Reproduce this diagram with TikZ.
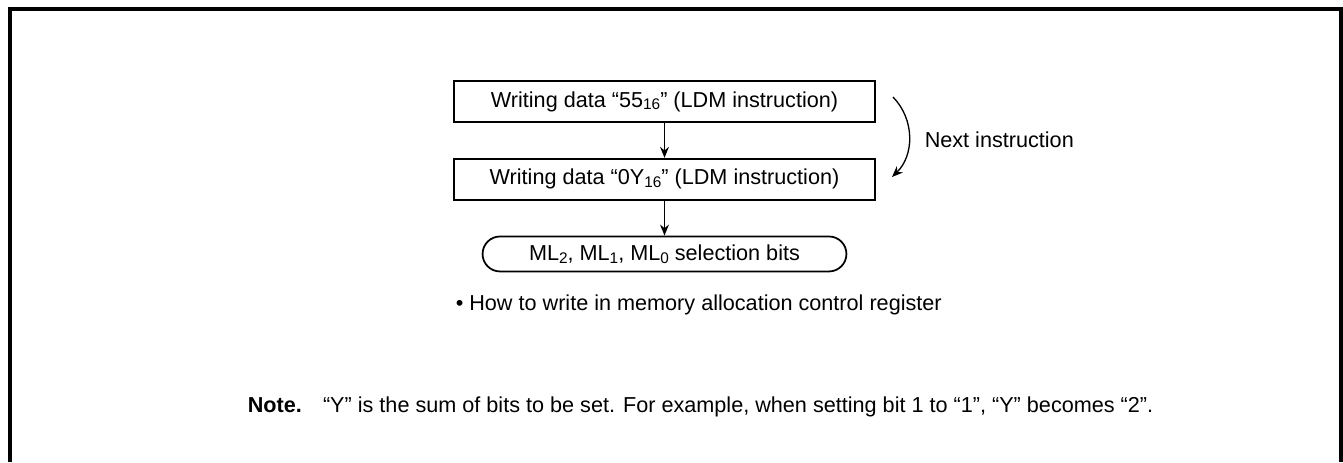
\documentclass[tikz,border=0pt]{standalone}
\usepackage{fontspec}
\setmainfont{Liberation Sans}
\usepackage{tikz}
\usetikzlibrary{positioning, shapes, arrows.meta}

\newcommand{\lowdig}[1]{\raisebox{-0.25ex}{\fontsize{7}{8}\selectfont #1}}

\begin{document}
\begin{tikzpicture}[
    x=0.016cm, y=-0.016cm,
    node distance=0.56cm,
    font=\fontsize{9.85}{12}\selectfont,
    writebox/.style={rectangle, draw=black, thick, minimum width=6.736cm, minimum height=0.656cm, inner sep=0pt},
    bitsbox/.style={rectangle, rounded corners=0.28cm, draw=black, thick, minimum width=5.824cm, minimum height=0.56cm, inner sep=0pt},
    line/.style={-{Stealth[length=5pt, width=4pt]}, semithick}
]
    \useasboundingbox (0,0) rectangle (1343,462);

    % Frame
    \draw[line width=1.4pt] (10,462) -- (10,9) -- (1341,9) -- (1341,462);

    % Steps
    \node[writebox] (first) at (664.5,101.5) {Writing data “55\lowdig{16}” (LDM instruction)};
    \node[writebox, below=of first] (second) {Writing data “0Y\lowdig{16}” (LDM instruction)};
    \node[bitsbox, below=of second] (bits) {ML\lowdig{2}, ML\lowdig{1}, ML\lowdig{0} selection bits};

    % Connections
    \draw[line] (first) -- (second);
    \draw[line] (second) -- (bits);

    % Next instruction
    \coordinate (nextA) at (893,97);
    \coordinate (nextB) at (892,177);
    \draw[line] (nextA) to[bend left=45] (nextB);
    \node[anchor=west] (nextlabel) at (917,140) {Next instruction};

    % Caption and note
    \node[anchor=west] (howto) at (448,305) {• How to write in memory allocation control register};
    \node[anchor=west] (note) at (240,407) {\textbf{Note.}\hspace{6pt} “Y” is the sum of bits to be set. For example, when setting bit 1 to “1”, “Y” becomes “2”.};

\end{tikzpicture}
\end{document}
